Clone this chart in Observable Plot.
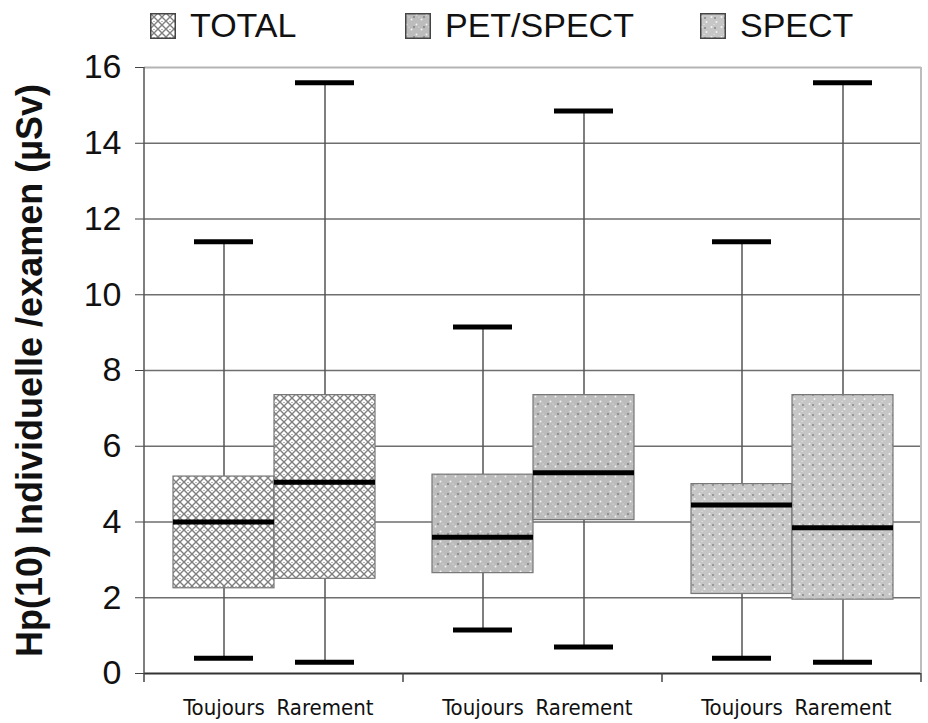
<!DOCTYPE html>
<html><head><meta charset="utf-8">
<script src="https://cdn.jsdelivr.net/npm/d3@7"></script>
<script src="https://cdn.jsdelivr.net/npm/@observablehq/plot@0.6"></script>
<style>
body{margin:0;background:#fff;font-family:"Liberation Sans",Arial,sans-serif;}
#wrap{position:relative;width:928px;height:723px;overflow:hidden;}
#legend{position:relative;width:928px;height:50px;}
.sw{position:absolute;top:13px;width:26px;height:26px;}
.lt{position:absolute;top:5px;font-size:34px;line-height:40px;color:#111;}
g[aria-label="y-axis label"] text{font-weight:bold;font-size:36px;}
g[aria-label="x-axis tick label"] text{font-family:"Liberation Sans Narrow","DejaVu Sans Condensed",sans-serif;}
</style></head><body>
<svg width="0" height="0" style="position:absolute">
<defs>
<pattern id="pTotal" patternUnits="userSpaceOnUse" width="8" height="8">
<rect width="8" height="8" fill="#fff"/>
<path d="M0,0L8,8M8,0L0,8" stroke="#808080" stroke-width="1.4"/>
<circle cx="4" cy="0" r="0.7" fill="#444"/>
</pattern>
<pattern id="pPet" patternUnits="userSpaceOnUse" width="10" height="10">
<rect width="10" height="10" fill="#bcbcbc"/>
<circle cx="1.5" cy="1.5" r="1" fill="#f2f2f2"/>
<circle cx="6.5" cy="6.5" r="1" fill="#f2f2f2"/>
<circle cx="4" cy="4" r="0.6" fill="#e6e6e6"/>
<circle cx="9" cy="4" r="0.7" fill="#444"/>
</pattern>
<pattern id="pSpect" patternUnits="userSpaceOnUse" width="10" height="10">
<rect width="10" height="10" fill="#c6c6c6"/>
<circle cx="1.5" cy="4" r="1" fill="#f4f4f4"/>
<circle cx="6.5" cy="9" r="1" fill="#f4f4f4"/>
<circle cx="4" cy="1.5" r="0.6" fill="#ececec"/>
<circle cx="5" cy="5" r="0.7" fill="#444"/>
</pattern>
</defs></svg>
<div id="wrap"><div id="legend"></div><div id="chart"></div></div>
<script>
// ---- data ----
const groups = ["TOTAL", "PET/SPECT", "SPECT"];
const conds = ["Toujours", "Rarement"];
// values in order: TOTAL Toujours, TOTAL Rarement, PET/SPECT Toujours, PET/SPECT Rarement, SPECT Toujours, SPECT Rarement
const minV = [0.4, 0.3, 1.15, 0.7, 0.4, 0.3];
const q1V  = [2.25, 2.5, 2.65, 4.05, 2.1, 1.95];
const medV = [4.0, 5.05, 3.6, 5.3, 4.45, 3.85];
const q3V  = [5.2, 7.35, 5.25, 7.35, 5.0, 7.35];
const maxV = [11.4, 15.6, 9.15, 14.85, 11.4, 15.6];
const yTicks = [0, 2, 4, 6, 8, 10, 12, 14, 16];
const yTitle = "Hp(10) Individuelle /examen (µSv)";
const patterns = ["url(#pTotal)", "url(#pPet)", "url(#pSpect)"];

const rows = groups.flatMap((g, i) => conds.map((c, j) => {
  const k = i * conds.length + j;
  return {group: g, cond: c, lo: minV[k], q1: q1V[k], med: medV[k], q3: q3V[k], hi: maxV[k]};
}));

// ---- legend ----
const legend = document.getElementById("legend");
const swLeft = [150, 405, 700];
groups.forEach((g, i) => {
  const s = document.createElementNS("http://www.w3.org/2000/svg", "svg");
  s.setAttribute("class", "sw");
  s.style.left = swLeft[i] + "px";
  s.innerHTML = `<rect x="0.75" y="0.75" width="24.5" height="24.5" fill="${patterns[i]}" stroke="#444" stroke-width="1.5"/>`;
  legend.appendChild(s);
  const t = document.createElement("div");
  t.className = "lt";
  t.style.left = (swLeft[i] + 40) + "px";
  t.textContent = g;
  legend.appendChild(t);
});

// ---- chart ----
const plot = Plot.plot({
  width: 928, height: 673,
  marginTop: 17, marginBottom: 50, marginLeft: 144, marginRight: 7,
  style: {fontFamily: "'Liberation Sans', Arial, sans-serif", background: "#fff", color: "#111", overflow: "visible"},
  fx: {domain: groups, padding: 0, axis: null},
  x: {domain: conds, paddingInner: 0, paddingOuter: 0.28, label: null},
  y: {domain: [0, 16], label: null},
  color: {domain: groups, range: patterns},
  marks: [
    Plot.ruleY(yTicks.filter(v => v > 0 && v < 16), {stroke: "#6e6e6e", strokeWidth: 1.5}),
    Plot.ruleY([16], {stroke: "#b4b4b4", strokeWidth: 2}),
    Plot.ruleX(rows, {fx: "group", x: "cond", y1: "lo", y2: "q1", stroke: "#555", strokeWidth: 1.5}),
    Plot.ruleX(rows, {fx: "group", x: "cond", y1: "q3", y2: "hi", stroke: "#555", strokeWidth: 1.5}),
    Plot.barY(rows, {fx: "group", x: "cond", y1: "q1", y2: "q3", fill: "group", stroke: "#777", strokeWidth: 1.2}),
    Plot.tickY(rows, {fx: "group", x: "cond", y: "med", stroke: "#000", strokeWidth: 5}),
    Plot.tickY(rows, {fx: "group", x: "cond", y: "lo", stroke: "#000", strokeWidth: 5, insetLeft: 21, insetRight: 21}),
    Plot.tickY(rows, {fx: "group", x: "cond", y: "hi", stroke: "#000", strokeWidth: 5, insetLeft: 21, insetRight: 21}),
    Plot.ruleY([0], {stroke: "#333", strokeWidth: 2}),
    Plot.axisY({ticks: yTicks, tickSize: 9, tickPadding: 14, fontSize: 34, stroke: "#444",
      label: yTitle, labelAnchor: "center", labelArrow: "none", labelOffset: 128}),
    Plot.axisX({tickSize: 0, tickPadding: 26, fontSize: 22, label: null})
  ]
});
document.getElementById("chart").appendChild(plot);

// frame decorations derived from the plot's own scales
const fx = plot.scale("fx"), y = plot.scale("y");
const svg = d3.select(plot);
const y0 = y.apply(0), y16 = y.apply(16);
const bounds = groups.map(g => fx.apply(g)).concat([fx.apply(groups[groups.length - 1]) + fx.bandwidth]);
const deco = svg.append("g");
deco.append("line").attr("x1", bounds[0]).attr("x2", bounds[0]).attr("y1", y16).attr("y2", y0)
  .attr("stroke", "#555").attr("stroke-width", 1.5);
const right = bounds[bounds.length - 1];
deco.append("line").attr("x1", right).attr("x2", right).attr("y1", y16).attr("y2", y0)
  .attr("stroke", "#bdbdbd").attr("stroke-width", 2);
bounds.forEach(b => deco.append("line").attr("x1", b).attr("x2", b).attr("y1", y0).attr("y2", y0 + 9)
  .attr("stroke", "#444").attr("stroke-width", 1.5));
</script>
</body></html>
